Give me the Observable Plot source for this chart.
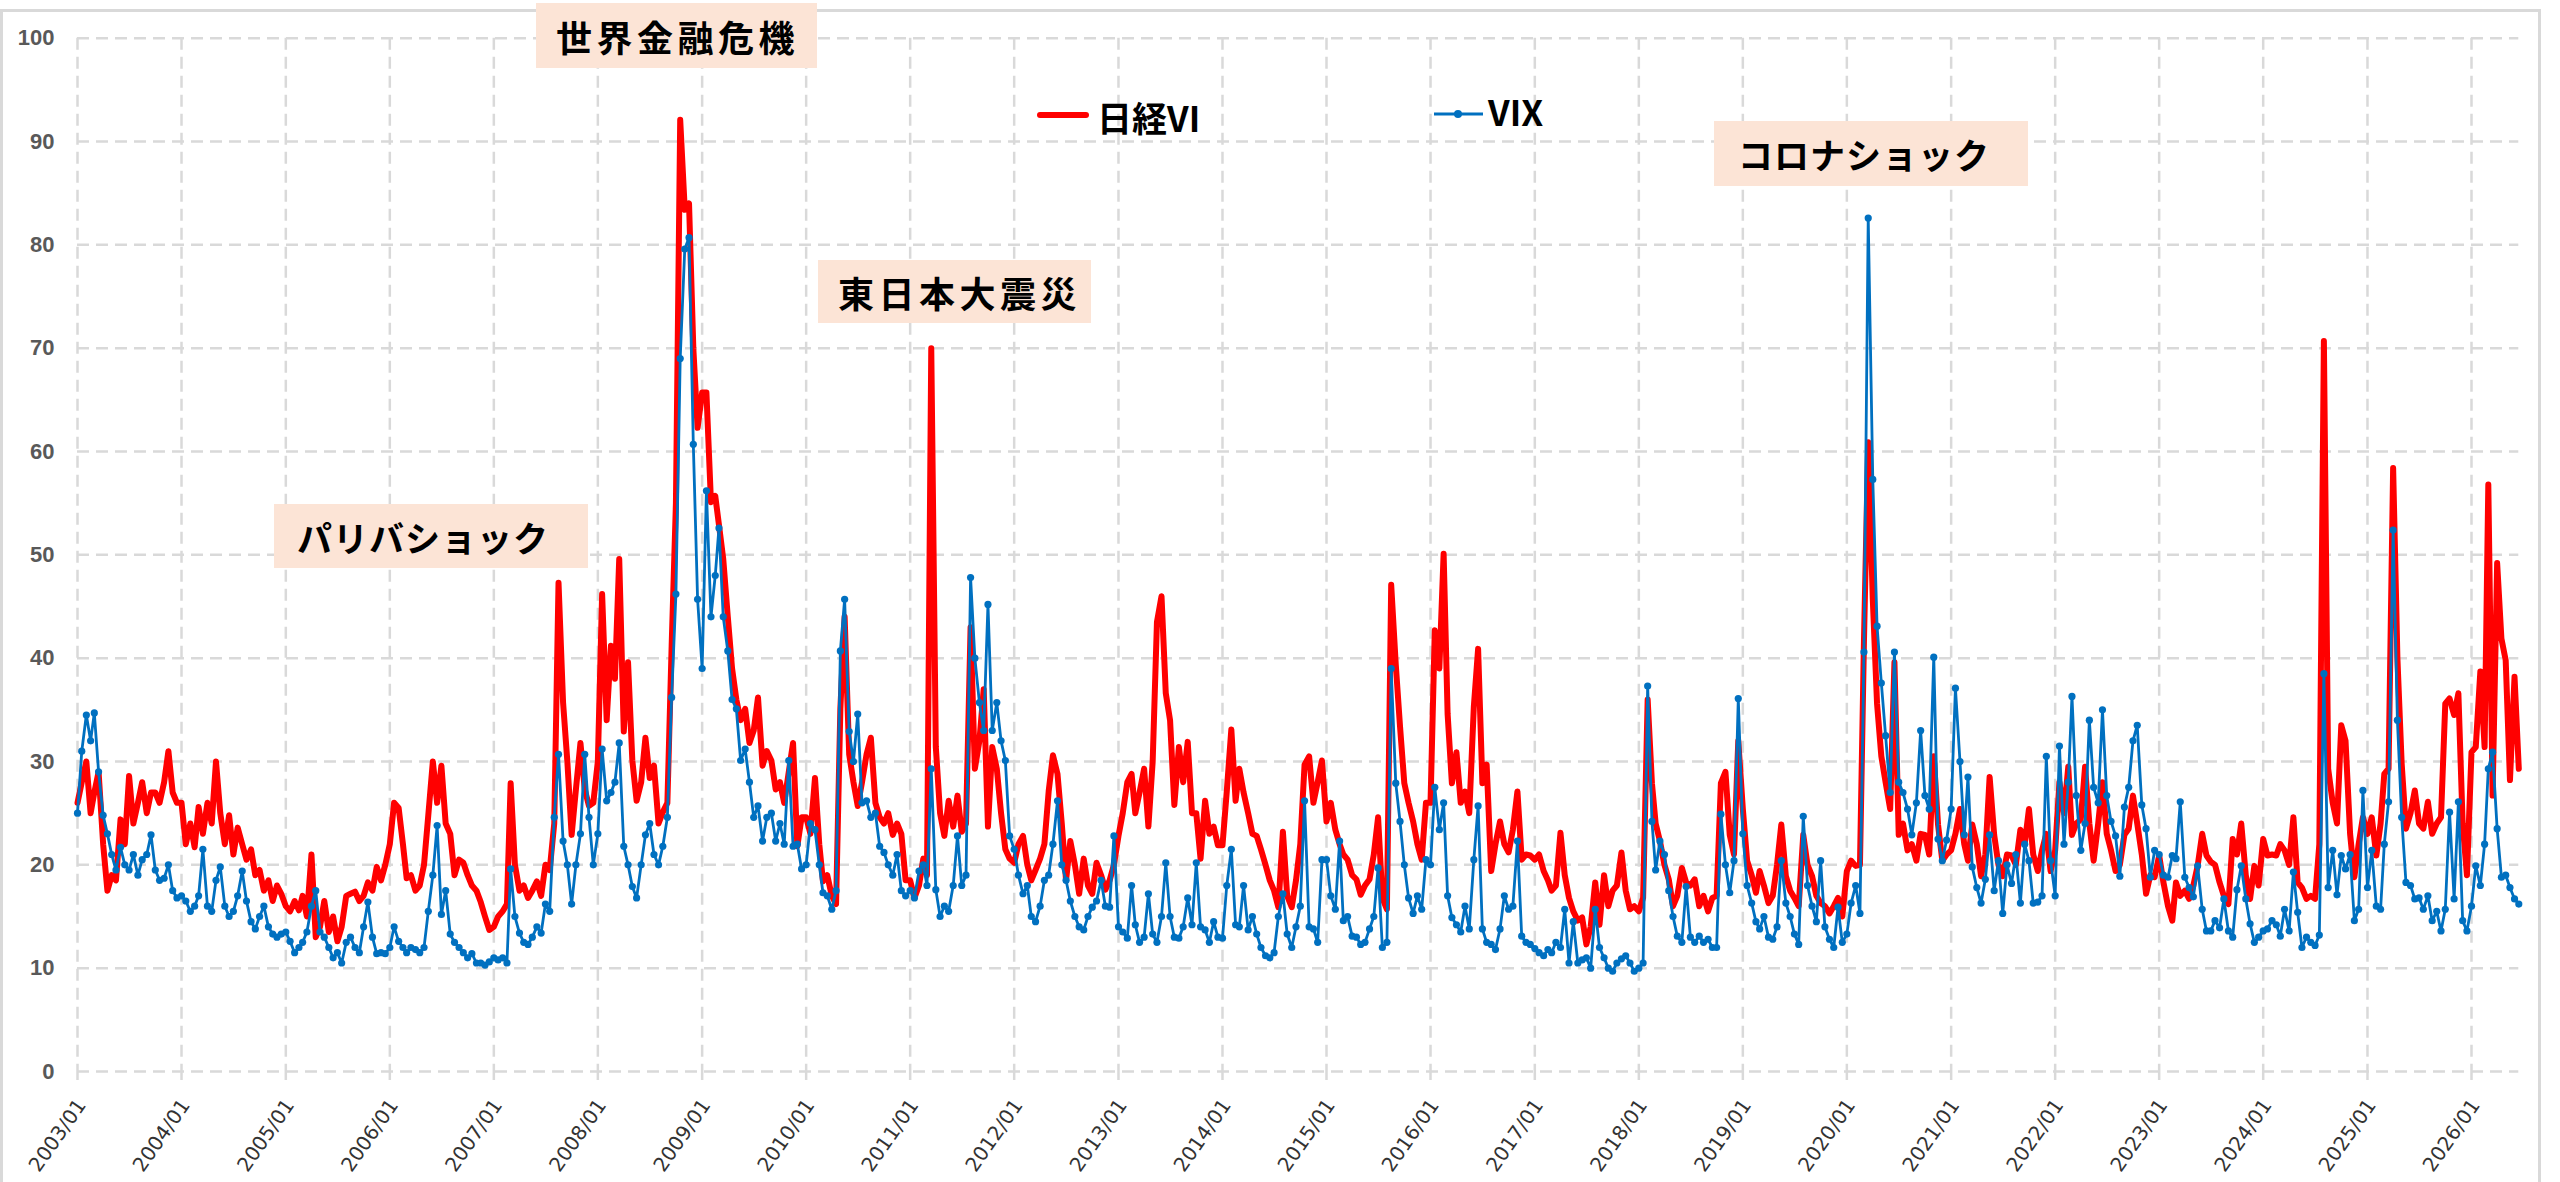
<!DOCTYPE html>
<html><head><meta charset="utf-8">
<script src="https://cdn.jsdelivr.net/npm/d3@7"></script>
<script src="https://cdn.jsdelivr.net/npm/@observablehq/plot@0.6"></script>
<style>
body{margin:0;background:#fff;}
#wrap{position:relative;width:2560px;height:1182px;overflow:hidden;background:#fff;}
#chart{position:absolute;left:0;top:0;}
#frame{position:absolute;left:0;top:9px;width:2541px;height:1220px;border:3px solid #d9d9d9;box-sizing:border-box;}
.note{position:absolute;background:#fce4d6;font-family:"Noto Sans CJK JP";font-weight:700;color:#000;display:flex;align-items:center;box-sizing:border-box;white-space:nowrap;}
#legend{position:absolute;left:0;top:0;}
</style></head>
<body>
<div id="wrap">
  <div id="chart"></div>
  <div id="frame"></div>
  <div class="note" style="left:536px;top:3px;width:281px;height:65px;padding-left:20px;font-size:36px;letter-spacing:4.5px">世界金融危機</div>
  <div class="note" style="left:818px;top:260px;width:273px;height:63px;padding-left:20px;font-size:36px;letter-spacing:4.5px">東日本大震災</div>
  <div class="note" style="left:274px;top:504px;width:314px;height:64px;padding-left:23px;font-size:35px;letter-spacing:1px">パリバショック</div>
  <div class="note" style="left:1714px;top:121px;width:314px;height:65px;padding-left:24px;font-size:35px;letter-spacing:1px">コロナショック</div>
  <svg id="legend" width="2560" height="200">
    <line x1="1040" y1="115" x2="1086" y2="115" stroke="#FF0000" stroke-width="6" stroke-linecap="round"/>
    <text x="1097" y="132" font-family="Noto Sans CJK JP" font-weight="700" font-size="35" fill="#000">日経VI</text>
    <line x1="1434" y1="114" x2="1483" y2="114" stroke="#0070C0" stroke-width="3"/>
    <circle cx="1458" cy="114" r="4" fill="#0070C0"/>
    <text x="1488" y="126" font-family="Noto Sans CJK JP" font-weight="700" font-size="35" fill="#000">VIX</text>
  </svg>
</div>
<script>
// Tick labels
const xTickLabels = ["2003/01","2004/01","2005/01","2006/01","2007/01","2008/01","2009/01","2010/01","2011/01","2012/01","2013/01","2014/01","2015/01","2016/01","2017/01","2018/01","2019/01","2020/01","2021/01","2022/01","2023/01","2024/01","2025/01","2026/01"];
const yTicks = [0,10,20,30,40,50,60,70,80,90,100];

// Nikkei VI, semi-monthly readings (1st and 16th of each month), 2003/01 - 2026/06
const nikkeiVI = [
/*2003*/ 26,28,30,25,27,29,22,17.5,19,18.5,24.4,22,28.6,24,26,28,25,27,27,26,28,31,27,26,
/*2004*/ 26,22,24,21.7,25.6,23,26,24,30,25,22,24.8,21,23.6,22,20.5,21.5,19,19.5,17.5,18.5,16.5,18,17.2,
/*2005*/ 16,15.5,16.5,15.6,17,15,21,13,14,16.5,13.5,15,12.6,14,17,17.2,17.4,16.5,17,18.3,17.5,19.8,18.5,20,
/*2006*/ 22,26,25.5,22,18.7,19,17.5,18,20,24.8,30,26,29.6,24,23,19,20.5,20.2,19,18,17.5,16.4,15,13.7,
/*2007*/ 14,15,15.5,16.2,27.9,20,17.5,18,16.8,17.5,18.4,17,20,19.5,24,47.3,35.7,30,22.9,27.3,31.8,27.3,25.7,26,
/*2008*/ 30,46.2,34,41.2,38,49.6,32.9,39.6,30.1,26.2,28,32.3,28.4,29.6,24,25.1,26,41.2,55,92.1,83.4,84,70,62.3,
/*2009*/ 65.7,65.7,55.1,55.7,52.9,49.6,44,39,36,34,35.1,31.8,33,36.2,29.6,31,30.1,27.3,28,26,29,31.8,21.8,24.6,
/*2010*/ 24.6,23,28.4,22,18.4,19,17,16.2,35.1,44,30.7,28,25.7,28,30.7,32.3,26,24.6,24,25,22.9,24,23,18.5,
/*2011*/ 18.5,16.8,18,20.6,19,70,31.4,25,22.8,26.2,23.7,26.7,23.2,24,43,29.3,32,37,23.7,31.4,29.3,25,21.5,20.6,
/*2012*/ 20.2,22,22.8,20,18.5,19.5,20.6,22,27.1,30.6,28.8,24,18.5,22.3,20,17.2,20.6,18,17.2,20.2,19,17.6,18.5,20,
/*2013*/ 22.8,25,28,28.8,25,27,29.3,23.7,30,43.5,46,36.6,34,25.8,31.4,28,31.9,25,25,20.6,26.2,23,23.7,21.9,
/*2014*/ 21.9,27.1,33.1,26.2,29.3,27,25,23,22.8,21.5,20,18.5,17.5,15.9,23.2,17,15.9,18.5,22,29.7,30.5,26,28,30.1,
/*2015*/ 24.2,26,23.4,22,21,20.5,19,18.6,17.1,18,18.6,21,24.6,16.8,15.7,47.1,39.4,33.4,27.9,26,24.2,22,20.5,26,
/*2016*/ 26,42.7,39,50.1,34.6,27.9,30.9,26,27.1,25,35.3,40.9,27.9,29.7,19.4,22,24.2,22,21.2,23.4,27.1,20.5,21,20.9,
/*2017*/ 20.5,21,19.4,18.5,17.5,18,23.1,19,16.8,15.5,14.6,14.9,12.3,14,18.3,14.2,19,16,17.5,18,21.2,17.5,15.7,16,
/*2018*/ 15.5,16.8,36,27.9,24,22.3,20,18.6,16,17,19.7,18.3,18,18.6,16,17,15.5,16.8,17,27.9,29,22.9,21,32,
/*2019*/ 25.4,20.4,19,17.3,19.4,18,16.3,17,20,23.9,18.9,17.5,16.8,16,22.9,20,18.9,17,16.3,16,15.3,16,16.8,15,
/*2020*/ 19.4,20.4,19.9,20,41.6,60.9,45.7,35.6,30.5,28,25.4,39.6,22.9,24,21.4,22,20.4,23,22.9,21,30.5,23.9,20.4,21,
/*2021*/ 21.4,23,25.4,22,20.4,23.9,22,18.9,21,28.5,22.9,20,18.9,21,20.9,20,23.4,22,25.4,21,19.4,21.4,23,19.4,
/*2022*/ 21.4,28,25,29.5,22.9,24,24.4,29.5,24,20.4,24,28,23,21.4,19.4,20,22.9,23.5,26.7,24,21,17.2,19,18.8,
/*2023*/ 20.9,18.3,16,14.6,18.3,17,17.5,16.7,18,19.9,23,20.9,20.3,20,18.3,17,16.2,22.5,21,24,19,16.7,19.9,18,
/*2024*/ 22.5,20.9,21,20.9,22,21.4,20,24.6,18.3,17.8,16.7,17,16.7,22,70.7,29.3,26,24,33.5,32,23,18.8,22,24.6,
/*2025*/ 23,24.6,20.9,24,28.8,29.3,58.4,40,29.8,23.5,25,27.2,24,23.5,26.1,23,24,24.6,35.6,36.1,34.5,36.6,24,19,
/*2026*/ 30.9,31.4,38.7,31.4,56.8,26.7,49.2,41.9,39.8,28.2,38.2,29.3
];

// VIX, same dates
const vix = [
/*2003*/ 25,31,34.5,32,34.7,29,24.8,23,21,19.5,21.7,20,19.5,21,19,20.5,21,22.9,19.5,18.5,18.7,20,17.5,16.8,
/*2004*/ 17,16.5,15.5,16,17,21.5,16,15.5,18.5,19.8,16,15,15.5,17,19.4,16.5,14.5,13.8,15,16,14,13.3,13,13.3,
/*2005*/ 13.5,12.6,11.5,12,12.5,13.5,16,17.5,13.5,13,12,11,11.5,10.5,12.5,13,12,11.5,14,16.4,13,11.4,11.5,11.4,
/*2006*/ 12,14,12.6,12,11.5,12,11.8,11.5,12,15.5,19,23.8,15.2,17.5,13.3,12.5,12,11.5,11,11.4,10.5,10.5,10.3,10.6,
/*2007*/ 11,10.8,11,10.5,19.6,15,13.4,12.5,12.3,13,14,13.4,16.2,15.5,24.6,30.7,22.3,20,16.2,20,23,30.7,24.6,20,
/*2008*/ 23,31.2,26.2,27,28,31.8,21.8,20,17.9,16.8,20,22.9,24,21,20,21.8,24.6,36.2,46.2,69,79.6,80.7,60.7,45.7,
/*2009*/ 39,56.2,44,48,52.6,44,40.7,36,35.1,30.1,31.2,28,24.6,25.7,22.3,24.6,25,22.3,24,22,30.1,21.8,22,19.6,
/*2010*/ 20,24,23.4,20,17.3,17,15.7,17.5,40.7,45.7,32.9,30,34.6,26,26.2,24.6,25,21.8,21.2,20,19,21,17.5,17,
/*2011*/ 17.5,16.8,19.4,20,18,29.3,17.6,15,16,15.5,18,22.8,18,19,47.8,40,35.7,33,45.2,33,35.7,32,30.1,22.8,
/*2012*/ 21.5,19,17.2,18,15,14.5,16,18.5,19,22,26.2,20,18.5,16.5,15,14,13.7,15,15.9,16.5,18.5,16,15.9,22.8,
/*2013*/ 14,13.5,12.9,18,14.2,12.5,13,17.2,13.3,12.5,15,20.2,15,13,12.9,14,16.8,14.2,20.2,14,13.7,12.5,14.5,13,
/*2014*/ 12.9,18,21.5,14.2,14,18,13.7,15,13.3,12,11.2,11,11.5,15,17.2,13.3,12,14,16,26.2,14,13.8,12.5,20.5,
/*2015*/ 20.5,17,15.7,22.3,14.6,15,13.1,13,12.3,12.5,13.8,15,19.7,12,12.5,39,27.9,24.2,20,16.8,15.3,17,15.7,20.5,
/*2016*/ 20,27.5,23.4,26,17,14.9,14.2,13.5,16,13.8,20.5,25.7,13.8,12.5,12.3,11.8,13.8,17,15.7,16,22.3,13.1,12.5,12.3,
/*2017*/ 11.9,11.5,11.2,11.8,11.5,12.5,12,15.7,10.5,14.5,10.5,10.8,11,10,15.7,12,11,10,9.7,10.5,10.9,11.2,10.5,9.7,
/*2018*/ 10,10.5,37.3,24.2,19.5,22.3,21,17.5,15,13.1,12.5,17.9,13,12.5,13.1,12.5,12.8,12,12,24.9,20,17.3,20.4,36.1,
/*2019*/ 23,18,16.3,14.5,13.8,15,13,12.8,14,20.4,16.3,15,13.3,12.3,24.7,18,16,14.5,20.4,14,12.8,12,15.9,12.5,
/*2020*/ 13.3,16.3,18,15.3,40.6,82.6,57.3,43.1,37.6,32.5,27,40.6,28,27,25.4,22.9,26,33,26.7,25.4,40.1,22.5,20.4,22.4,
/*2021*/ 25.4,37.1,30,22.9,28.5,19.8,17.8,16.3,18.6,22.9,17.5,20.4,15.3,20,18.2,21,16.3,22,20.4,16.3,16.4,17,30.5,20.4,
/*2022*/ 17,31.5,22,28,36.3,26.7,21.4,24,34,27.5,26,35,26.7,24.2,22.8,18.9,25.6,27.5,32,33.5,25.8,23.5,18.8,21.4,
/*2023*/ 21,19,18.8,20.9,20.6,26.1,18.8,17.8,16.9,19.9,15.7,13.6,13.6,14.6,13.9,16.7,13.6,13,17.6,19.9,16.7,14.3,12.5,13,
/*2024*/ 13.6,13.8,14.6,14.2,13.1,15.7,13.6,19.3,15.4,12,13,12.5,12.2,13.2,38.5,17.8,21.4,17.1,20.9,19.6,21,14.6,15.7,27.2,
/*2025*/ 17.8,21.4,16,15.7,22,26.1,52.4,34,24.6,18.3,18,16.7,16.8,15.7,17,14.6,15.5,13.6,15.7,25.1,16.7,26.1,14.6,13.6,
/*2026*/ 16,19.9,18,22,29.3,30.9,23.5,18.8,19,17.8,16.7,16.2
];

// Observation dates: the 1st and 16th of each month from 2003/01
const dates = nikkeiVI.map((_, i) => new Date(Date.UTC(2003, Math.floor(i / 2), i % 2 ? 16 : 1)));
const rows = dates.map((d, i) => ({date: d, vi: nikkeiVI[i], vix: vix[i]}));
const xTicks = xTickLabels.map(s => new Date(Date.UTC(+s.slice(0, 4), +s.slice(5, 7) - 1, 1)));
const fmt = d3.utcFormat("%Y/%m");

const grid = {stroke: "#d9d9d9", strokeWidth: 2.5, strokeDasharray: "12,7"};

const chart = Plot.plot({
  width: 2560,
  height: 1182,
  marginTop: 37.7,
  marginBottom: 111,
  marginLeft: 77,
  marginRight: 41.7,
  style: {background: "transparent", fontFamily: "Liberation Sans, Arial, sans-serif", overflow: "visible"},
  x: {type: "utc", domain: [dates[0], dates[dates.length - 1]], axis: null},
  y: {domain: [0, 100], axis: null},
  marks: [
    Plot.ruleY(yTicks, {y: d => d, ...grid}),
    Plot.ruleX(xTicks, {x: d => d, y1: 100, y2: 0, ...grid}),
    Plot.axisX({ticks: xTicks, tickSize: 9, tickFormat: () => "", stroke: "#d9d9d9", strokeWidth: 2.5, label: null}),
    Plot.text(yTicks, {y: d => d, frameAnchor: "left", text: d => String(d), textAnchor: "end", dx: -23,
      fontSize: 22, fontWeight: "bold", fill: "#595959"}),
    Plot.text(xTicks, {x: d => d, frameAnchor: "bottom", text: d => fmt(d), rotate: -55, textAnchor: "end",
      lineAnchor: "middle", dx: 4, dy: 30, fontSize: 20, fontFamily: "DejaVu Sans", fill: "#333"}),
    Plot.line(rows, {x: "date", y: "vi", stroke: "#FF0000", strokeWidth: 6, strokeLinejoin: "round"}),
    Plot.line(rows, {x: "date", y: "vix", stroke: "#0070C0", strokeWidth: 2.8}),
    Plot.dot(rows, {x: "date", y: "vix", r: 3.6, fill: "#0070C0", stroke: "none"})
  ]
});
document.getElementById("chart").appendChild(chart);
</script>
</body></html>
